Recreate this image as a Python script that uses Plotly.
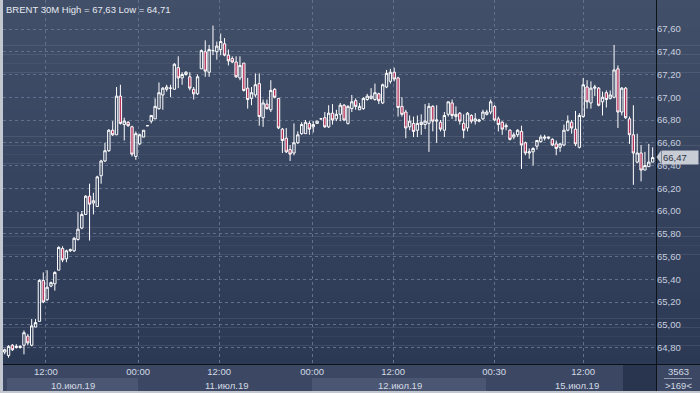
import plotly.graph_objects as go

# ---------------- data (BRENT 30M) ----------------
opens = [64.76,64.73,64.82,64.80,64.80,64.82,64.90,64.82,64.98,65.03,
         65.39,65.22,65.34,65.36,65.48,65.67,65.58,65.65,65.65,65.75,
         65.85,65.97,66.13,66.07,66.04,66.31,66.44,66.53,66.71,66.67,
         67.01,66.76,66.78,66.74,66.48,66.59,66.65,66.75,66.79,66.81,
         66.90,67.02,67.07,67.08,67.07,67.26,67.17,67.20,67.18,67.07,
         67.03,67.25,67.40,67.22,67.41,67.40,67.42,67.47,67.37,67.34,
         67.31,67.17,67.30,67.08,66.99,67.02,67.12,66.82,66.94,66.89,
         67.07,66.99,66.72,66.64,66.54,66.51,66.60,66.68,66.68,66.77,
         66.74,66.77,66.81,66.82,66.74,66.86,66.81,66.85,66.93,66.77,
         66.90,66.97,66.89,66.90,66.98,66.99,66.98,67.03,66.95,67.09,
         67.14,67.22,67.17,66.92,66.87,66.74,66.77,66.71,66.76,66.76,
         66.77,66.92,66.79,66.78,66.71,66.85,66.95,66.83,66.86,66.77,
         66.73,66.84,66.79,66.79,66.81,66.85,66.87,66.92,66.81,66.78,
         66.74,66.71,66.65,66.67,66.70,66.60,66.51,66.52,66.57,66.61,
         66.64,66.64,66.63,66.59,66.56,66.58,66.71,66.78,66.72,66.56,
         66.83,67.09,66.95,67.08,67.08,66.96,67.04,66.99,67.00,67.25,
         66.87,67.08,66.81,66.67,66.43,66.51,66.36,66.39,66.43]
highs = [64.79,64.82,64.83,64.83,64.82,64.95,64.92,65.05,65.05,65.40,
         65.46,65.48,65.38,65.47,65.69,65.69,65.66,65.67,65.77,65.99,
         66.00,66.14,66.24,66.16,66.31,66.45,66.60,66.72,66.79,67.09,
         67.11,66.82,66.79,66.75,66.70,66.68,66.71,66.75,66.84,66.99,
         67.13,67.09,67.11,67.11,67.30,67.36,67.22,67.23,67.22,67.09,
         67.20,67.42,67.50,67.46,67.63,67.49,67.56,67.52,67.42,67.36,
         67.36,67.36,67.30,67.17,67.09,67.21,67.21,66.98,66.98,67.15,
         67.08,66.99,66.73,66.73,66.58,66.77,66.70,66.78,66.80,66.79,
         66.79,66.79,66.81,66.87,66.93,66.94,66.89,66.95,66.94,66.93,
         67.02,66.99,66.95,67.00,67.03,67.08,67.12,67.04,67.12,67.24,
         67.25,67.26,67.18,67.00,66.89,66.84,66.83,66.84,66.85,66.94,
         66.95,66.93,66.93,66.80,66.87,66.96,66.98,66.92,66.87,66.85,
         66.87,66.85,66.86,66.81,66.89,66.89,66.98,66.93,66.83,66.79,
         66.77,66.72,66.69,66.72,66.75,66.61,66.55,66.56,66.62,66.67,
         66.67,66.65,66.64,66.62,66.60,66.76,66.84,66.80,66.88,66.86,
         67.17,67.15,67.14,67.11,67.09,67.05,67.06,67.06,67.46,67.28,
         67.09,67.09,66.83,66.93,66.68,66.58,66.52,66.59,66.56]
lows = [64.74,64.71,64.77,64.79,64.79,64.74,64.82,64.81,64.98,65.03,
        65.19,65.21,65.33,65.30,65.48,65.55,65.55,65.64,65.64,65.74,
        65.84,65.97,65.74,65.97,66.04,66.24,66.43,66.52,66.66,66.67,
        66.76,66.62,66.74,66.48,66.45,66.58,66.65,66.75,66.77,66.81,
        66.89,66.89,67.05,67.00,67.07,67.08,67.11,67.19,67.06,66.98,
        67.02,67.25,67.18,67.18,67.37,67.33,67.37,67.36,67.28,67.30,
        67.17,67.15,67.05,66.90,66.93,67.00,66.75,66.74,66.89,66.87,
        66.99,66.72,66.51,66.51,66.44,66.49,66.59,66.67,66.68,66.67,
        66.69,66.77,66.81,66.73,66.73,66.76,66.79,66.79,66.79,66.76,
        66.87,66.89,66.89,66.89,66.97,66.98,66.97,66.94,66.94,67.08,
        67.12,67.14,66.83,66.83,66.64,66.71,66.65,66.65,66.67,66.72,
        66.52,66.70,66.60,66.70,66.65,66.83,66.81,66.79,66.76,66.64,
        66.70,66.77,66.76,66.78,66.80,66.84,66.85,66.79,66.70,66.67,
        66.71,66.62,66.63,66.65,66.37,66.49,66.46,66.40,66.54,66.60,
        66.62,66.63,66.57,66.49,66.52,66.57,66.70,66.68,66.57,66.55,
        66.82,66.90,66.90,67.01,66.92,66.84,66.91,66.98,66.99,66.73,
        66.84,66.81,66.59,66.23,66.42,66.26,66.36,66.39,66.43]
closes = [64.78,64.81,64.78,64.81,64.81,64.93,64.84,64.99,65.02,65.39,
          65.20,65.33,65.37,65.46,65.68,65.57,65.65,65.66,65.76,65.84,
          65.97,66.13,66.06,66.09,66.30,66.44,66.53,66.71,66.67,67.01,
          66.77,66.79,66.75,66.50,66.68,66.67,66.71,66.75,66.84,66.92,
          67.04,67.08,67.09,67.08,67.29,67.17,67.20,67.22,67.08,67.03,
          67.18,67.41,67.23,67.42,67.41,67.45,67.49,67.37,67.32,67.31,
          67.18,67.28,67.06,66.98,67.04,67.11,66.83,66.95,66.90,67.06,
          67.00,66.73,66.62,66.52,66.50,66.60,66.67,66.76,66.78,66.72,
          66.76,66.79,66.81,66.74,66.86,66.80,66.85,66.93,66.80,66.92,
          66.96,66.92,66.92,66.99,67.01,67.01,67.04,66.97,67.11,67.21,
          67.22,67.16,66.91,66.85,66.73,66.79,66.70,66.77,66.78,66.79,
          66.92,66.79,66.80,66.72,66.84,66.96,66.84,66.85,66.79,66.71,
          66.86,66.79,66.81,66.80,66.87,66.87,66.96,66.80,66.76,66.72,
          66.75,66.63,66.67,66.71,66.58,66.51,66.52,66.55,66.62,66.65,
          66.65,66.65,66.58,66.55,66.59,66.71,66.79,66.73,66.59,66.84,
          67.11,66.96,67.08,67.09,66.93,67.00,66.98,67.02,67.24,66.87,
          67.08,66.82,66.67,66.51,66.51,66.36,66.40,66.43,66.47]
bar_index = list(range(len(closes)))

price_ticks = [64.8, 65.0, 65.2, 65.4, 65.6, 65.8, 66.0, 66.2, 66.4, 66.6, 66.8, 67.0, 67.2, 67.4, 67.6]
time_tick_pos = [10.7, 34.6, 55.6, 79.7, 100.7, 126.9, 150.0]
time_tick_text = ["12:00", "00:00", "12:00", "00:00", "12:00", "00:30", "12:00"]
date_labels = ["10.июл.19", "11.июл.19", "12.июл.19", "15.июл.19"]

def fmt(v):
    return f"{v:.2f}".replace(".", ",")

# ---------------- geometry helpers ----------------
W, H = 700, 393
ML, MR, MT, MB = 3, 44, 0, 29
PW, PH = W - ML - MR, H - MT - MB

def X(px):
    return (px - ML) / PW

def Y(py):
    return (H - MB - py) / PH

FONT = "Liberation Sans"
FS = 9.5

fig = go.Figure()
fig.add_trace(go.Candlestick(
    x=bar_index, open=opens, high=highs, low=lows, close=closes,
    increasing=dict(line=dict(color="#ffffff", width=1), fillcolor="rgba(0,0,0,0)"),
    decreasing=dict(line=dict(color="#ffffff", width=1), fillcolor="#b8325c"),
    whiskerwidth=0, hoverinfo="skip", showlegend=False,
))

shapes = []
# background gradient
n = 40
top = (66, 79, 105)
bot = (44, 57, 85)
for k in range(n):
    t = k / (n - 1)
    c = tuple(round(top[j] + (bot[j] - top[j]) * t) for j in range(3))
    y0 = 364 * k / n
    y1 = 364 * (k + 1) / n
    shapes.append(dict(type="rect", xref="paper", yref="paper", x0=X(3), x1=X(700),
                       y0=Y(y1), y1=Y(y0) + 0.001, fillcolor="rgb(%d,%d,%d)" % c,
                       line=dict(width=0), layer="below"))
# bottom strip
shapes.append(dict(type="rect", xref="paper", yref="paper", x0=X(3), x1=X(700), y0=Y(391), y1=Y(364),
                   fillcolor="#3c4863", line=dict(width=0), layer="below"))
for a, b in [(7, 138), (312, 486)]:
    shapes.append(dict(type="rect", xref="paper", yref="paper", x0=X(a), x1=X(b), y0=Y(391), y1=Y(378),
                       fillcolor="#4b5772", line=dict(width=0), layer="below"))
shapes.append(dict(type="rect", xref="paper", yref="paper", x0=X(623), x1=X(656), y0=Y(391), y1=Y(364),
                   fillcolor="#29354f", line=dict(width=0), layer="below"))
# frame lines
shapes.append(dict(type="line", xref="paper", yref="paper", x0=X(656.5), x1=X(656.5), y0=Y(391), y1=Y(0),
                   line=dict(color="#0d1118", width=1), layer="above"))
shapes.append(dict(type="line", xref="paper", yref="paper", x0=X(3), x1=X(700), y0=Y(364.5), y1=Y(364.5),
                   line=dict(color="#0d1118", width=1), layer="above"))
shapes.append(dict(type="line", xref="paper", yref="paper", x0=X(664), x1=X(692), y0=Y(378.5), y1=Y(378.5),
                   line=dict(color="#8f99ad", width=1), layer="above"))
# last price marker arrow
shapes.append(dict(type="path", xref="paper", yref="paper",
                   path="M %f %f L %f %f L %f %f Z" % (X(661), Y(150.5), X(656.5), Y(157), X(661), Y(163.5)),
                   fillcolor="#c7ccd5", line=dict(width=0), layer="above"))

annotations = []
annotations.append(dict(text="BRENT 30M High = %s Low = %s" % (fmt(max(highs)), fmt(min(lows))),
                        xref="paper", yref="paper", x=X(4), y=Y(9), xanchor="left", yanchor="middle",
                        showarrow=False, font=dict(family=FONT, size=FS, color="#e6eaf1")))
for lab, px in zip(date_labels, [73, 226, 400, 577]):
    annotations.append(dict(text=lab, xref="paper", yref="paper", x=X(px), y=Y(385), xanchor="center",
                            yanchor="middle", showarrow=False, font=dict(family=FONT, size=FS, color="#d3d9e4")))
annotations.append(dict(text="3563", xref="paper", yref="paper", x=X(678), y=Y(371), xanchor="center",
                        yanchor="middle", showarrow=False, font=dict(family=FONT, size=FS, color="#d3d9e4")))
annotations.append(dict(text=">169<", xref="paper", yref="paper", x=X(678), y=Y(385), xanchor="center",
                        yanchor="middle", showarrow=False, font=dict(family=FONT, size=FS, color="#d3d9e4")))
annotations.append(dict(text=fmt(closes[-1]), xref="paper", yref="paper", x=X(661), y=Y(157),
                        xanchor="left", yanchor="middle", showarrow=False, bgcolor="#c7ccd5",
                        borderpad=1, width=34, height=11, align="left",
                        font=dict(family=FONT, size=FS, color="#2b3242")))

fig.update_layout(
    width=W, height=H,
    margin=dict(l=ML, r=MR, t=MT, b=MB, pad=0),
    paper_bgcolor="#c3c7cf",
    plot_bgcolor="rgba(0,0,0,0)",
    boxgap=0.12,
    shapes=shapes, annotations=annotations,
    showlegend=False,
    xaxis=dict(range=[-0.44, 168.87], rangeslider=dict(visible=False), tickvals=time_tick_pos,
               ticktext=time_tick_text, showgrid=True, gridcolor="#62708c", griddash="3px,3px",
               gridwidth=1, zeroline=False, showline=False, ticks="",
               tickfont=dict(family=FONT, size=FS, color="#d3d9e4")),
    yaxis=dict(side="right", range=[64.655, 67.855], tickvals=price_ticks,
               ticktext=[fmt(v) for v in price_ticks], showgrid=True, gridcolor="#62708c",
               griddash="3px,3px", gridwidth=1, zeroline=False, showline=False, ticks="",
               tickfont=dict(family=FONT, size=FS, color="#c6cedf")),
)

fig.write_html("out.html", config=dict(displayModeBar=False),
               post_script="document.body.style.margin='0';document.body.style.overflow='hidden';")
